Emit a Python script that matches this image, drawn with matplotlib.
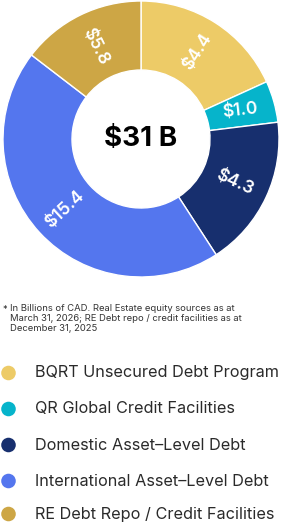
import matplotlib
matplotlib.use("Agg")
import matplotlib.pyplot as plt
import numpy as np

# ---- data ----
categories = ["BQRT Unsecured Debt Program", "QR Global Credit Facilities",
              "Domestic Asset-Level Debt", "International Asset-Level Debt",
              "RE Debt Repo / Credit Facilities"]
values = [4.4, 1.0, 4.3, 15.4, 5.8]               # $B, shown as labels
slice_share = [65.5, 17.5, 64.0, 160.5, 52.5]     # slice sizes as drawn in the reference (degrees)
colors = ["#EDCB67", "#06B4CB", "#172F6E", "#5476EE", "#CDA645"]
footnote = ("In Billions of CAD. Real Estate equity sources as at\n"
            "March 31, 2026; RE Debt repo / credit facilities as at\n"
            "December 31, 2025")

plt.rcParams['font.family'] = ['Inter', 'DejaVu Sans']

W, H = 282, 523
fig = plt.figure(figsize=(W / 100, H / 100), dpi=100)

# donut axes: outer circle box in pixels
cx, cy, R = 141, 139, 138
ax = fig.add_axes([(cx - R) / W, (H - (cy + R)) / H, 2 * R / W, 2 * R / H])
wedges, _ = ax.pie(slice_share, colors=colors, startangle=90, counterclock=False,
                   radius=1.0, wedgeprops=dict(width=0.5, edgecolor="white", linewidth=1.0))
ax.set_xlim(-1, 1)
ax.set_ylim(-1, 1)
ax.set_aspect("equal")
ax.axis("off")

for w, v in zip(wedges, values):
    mid = (w.theta1 + w.theta2) / 2.0
    r = 0.75
    x, y = r * np.cos(np.radians(mid)), r * np.sin(np.radians(mid))
    rot = mid
    if np.cos(np.radians(mid)) < 0:
        rot = mid + 180
    rot = ((rot + 180) % 360) - 180
    if abs(rot) < 20:
        rot *= 0.4
    ax.text(x, y, f"${v:.1f}", color="white", fontsize=12.5, fontweight="semibold",
            ha="center", va="center", rotation=rot, rotation_mode="anchor")

ax.text(0, 0, f"${sum(values):.0f} B", ha="center", va="center",
        fontsize=20, fontweight="bold", color="black")

# overlay axes in pixel coordinates for footnote and legend
ov = fig.add_axes([0, 0, 1, 1])
ov.set_xlim(0, W)
ov.set_ylim(H, 0)
ov.axis("off")

ov.text(2, 305, "*", fontsize=6.5, color="#333333", va="top", ha="left")
ov.text(10, 304, footnote, fontsize=6.8, color="#333333", va="top", ha="left",
        linespacing=1.15)

leg_y = [373, 409, 445, 481, 514]
for yy, c, lab in zip(leg_y, colors, categories):
    ov.scatter([8.5], [yy], s=110, color=c, edgecolors="none")
    ov.text(35, yy, lab.replace("-", "\u2013"), fontsize=11.7, color="#2a2a2a",
            va="center", ha="left")

fig.savefig("out.png", dpi=100)
